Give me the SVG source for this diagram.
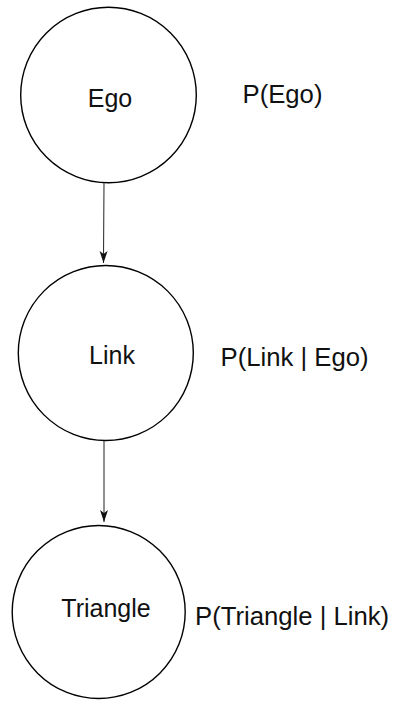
<svg xmlns="http://www.w3.org/2000/svg" width="394" height="701" viewBox="0 0 394 701">
<style>
.node{fill:#fff;stroke:#000;stroke-width:1.4}
.lbl{font-family:"Liberation Sans",Arial,sans-serif;font-size:25px;fill:#111}
.edge{stroke:#222;stroke-width:1;fill:none}
</style>
<defs>
<marker id="arr" markerUnits="userSpaceOnUse" markerWidth="14" markerHeight="10" viewBox="-13 -5 14 10" refX="0" refY="0" orient="auto">
<path d="M-12,-4 L0,0 L-12,4 L-9,0 Z" fill="#111"/>
</marker>
</defs>
<rect width="394" height="701" fill="#fff"/>
<g id="connectors">
<line class="edge" x1="104" y1="183" x2="103.5" y2="263" marker-end="url(#arr)"/>
<line class="edge" x1="104" y1="441" x2="104" y2="522" marker-end="url(#arr)"/>
</g>
<g id="ego">
<circle class="node" cx="108.5" cy="95" r="87.8"/>
<text class="lbl" x="110" y="107" text-anchor="middle">Ego</text>
</g>
<g id="link">
<circle class="node" cx="105.8" cy="353" r="87.5"/>
<text class="lbl" x="112" y="363.5" text-anchor="middle">Link</text>
</g>
<g id="triangle">
<circle class="node" cx="98.7" cy="612" r="86.5"/>
<text class="lbl" x="106" y="617" text-anchor="middle">Triangle</text>
</g>
<g id="p-ego">
<text class="lbl" x="242.5" y="103" style="font-size:25.7px">P(Ego)</text>
</g>
<g id="p-link">
<text class="lbl" x="220.5" y="366" style="font-size:25.7px">P(Link | Ego)</text>
</g>
<g id="p-triangle">
<text class="lbl" x="195" y="625" style="font-size:25.7px">P(Triangle | Link)</text>
</g>
</svg>
